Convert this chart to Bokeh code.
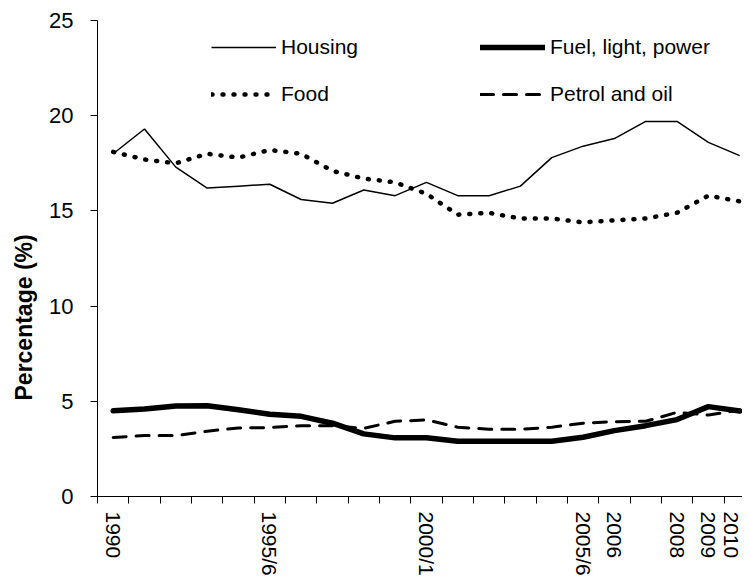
from bokeh.plotting import figure
from bokeh.models import FixedTicker, Legend, LegendItem, Title, Range1d
from bokeh.embed import file_html
from bokeh.resources import INLINE

categories = ["1990", "", "", "", "", "1995/6", "", "", "", "", "2000/1", "", "", "", "",
              "2005/6", "2006", "", "2008", "2009", "2010"]
housing = [18.0, 19.3, 17.3, 16.2, 16.3, 16.4, 15.6, 15.4, 16.1, 15.8, 16.5,
           15.8, 15.8, 16.3, 17.8, 18.4, 18.8, 19.7, 19.7, 18.6, 17.9]
food = [18.1, 17.7, 17.5, 18.0, 17.8, 18.2, 18.0, 17.1, 16.7, 16.5, 15.9,
        14.8, 14.9, 14.6, 14.6, 14.4, 14.5, 14.6, 14.9, 15.8, 15.5]
fuel = [4.5, 4.6, 4.75, 4.77, 4.56, 4.32, 4.21, 3.85, 3.29, 3.08, 3.08,
        2.9, 2.9, 2.9, 2.9, 3.11, 3.46, 3.72, 4.04, 4.72, 4.49]
petrol = [3.1, 3.2, 3.2, 3.43, 3.6, 3.62, 3.72, 3.72, 3.58, 3.95, 4.02,
          3.64, 3.53, 3.53, 3.64, 3.85, 3.93, 3.95, 4.42, 4.28, 4.54]
y_ticks = [0, 5, 10, 15, 20, 25]

FONT = "Liberation Sans"
x = list(range(len(categories)))

p = figure(width=742, height=578, output_backend="svg", toolbar_location=None,
           x_range=Range1d(-0.5, 20.09), y_range=Range1d(0, 25),
           min_border_left=97, min_border_right=0, min_border_top=20, min_border_bottom=80)
p.outline_line_color = None
p.xgrid.visible = False
p.ygrid.visible = False
p.background_fill_color = "white"

r_h = p.line(x, housing, line_color="black", line_width=1.5)
r_fu = p.line(x, fuel, line_color="black", line_width=5.5, line_join="round", line_cap="round")
r_fo = p.line(x, food, line_color="black", line_width=4.5, line_dash="1 10", line_cap="round")
r_p = p.line(x, petrol, line_color="black", line_width=3, line_dash="13 10", line_cap="round")

# x axis
xa = p.xaxis[0]
label_ticks = [i for i, c in enumerate(categories) if c]
xa.ticker = FixedTicker(ticks=label_ticks, minor_ticks=[i - 0.5 for i in range(len(categories) + 1)])
xa.major_label_overrides = {i: categories[i] for i in label_ticks}
xa.major_label_orientation = "vertical"
xa.major_tick_out = 0
xa.major_tick_in = 0
xa.minor_tick_out = 7
xa.minor_tick_in = 0
xa.major_label_standoff = 8
xa.major_label_text_font = FONT
xa.major_label_text_font_size = "21px"
xa.major_label_text_color = "black"
xa.axis_line_color = "black"
xa.minor_tick_line_color = "black"

# y axis
ya = p.yaxis[0]
ya.ticker = FixedTicker(ticks=y_ticks)
ya.major_tick_out = 7
ya.major_tick_in = 0
ya.minor_tick_out = 0
ya.minor_tick_in = 0
ya.major_label_standoff = 17
ya.major_label_text_font = FONT
ya.major_label_text_font_size = "22px"
ya.major_label_text_color = "black"
ya.axis_line_color = "black"
ya.major_tick_line_color = "black"

ytitle = Title(text="Percentage (%)", align="left", offset=96, vertical_align="top",
               text_font=FONT, text_font_style="bold", text_font_size="23px",
               text_color="black", standoff=16)
p.add_layout(ytitle, "left")

def make_legend(items, loc):
    lg = Legend(items=items, location=loc, orientation="horizontal",
                glyph_width=65, glyph_height=24, label_height=24, label_width=180,
                label_standoff=5, spacing=19, padding=0, margin=0,
                border_line_color=None, background_fill_alpha=0,
                label_text_font=FONT, label_text_font_size="21px", label_text_color="black")
    return lg

p.add_layout(make_legend([LegendItem(label="Housing", renderers=[r_h]),
                          LegendItem(label="Fuel, light, power", renderers=[r_fu])], (114, 437)))
p.add_layout(make_legend([LegendItem(label="Food", renderers=[r_fo]),
                          LegendItem(label="Petrol and oil", renderers=[r_p])], (114, 390)))

open("out.html", "w").write(file_html(p, INLINE))
